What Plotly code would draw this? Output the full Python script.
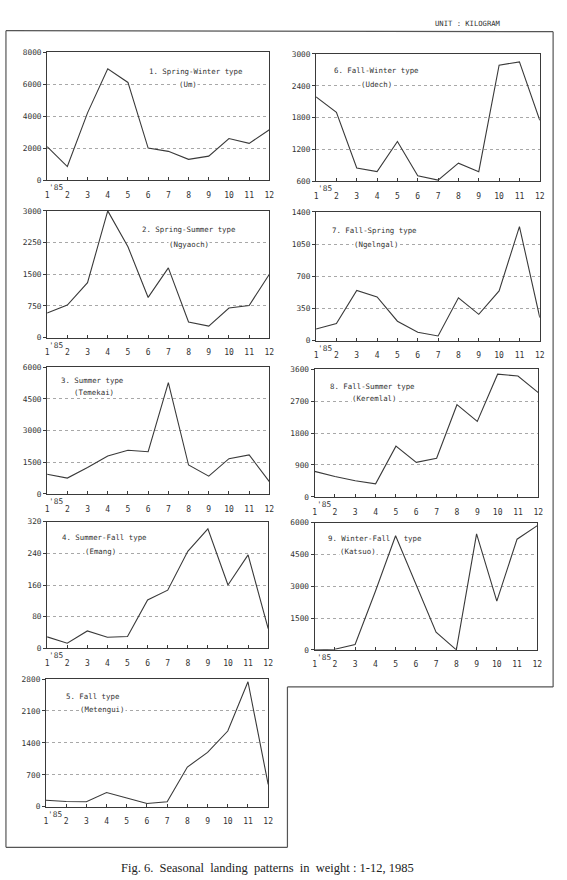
import plotly.graph_objects as go

W, H = 567, 880

months = list(range(1, 13))
month_labels = [str(m) for m in months]

um = [2100, 850, 4200, 6950, 6100, 2000, 1800, 1300, 1500, 2600, 2300, 3150]
ngyaoch = [580, 770, 1300, 3000, 2150, 950, 1650, 370, 270, 700, 760, 1500]
temekai = [930, 750, 1250, 1800, 2070, 2000, 5270, 1370, 840, 1670, 1850, 580]
emang = [29, 13, 44, 28, 30, 122, 147, 245, 302, 160, 236, 50]
metengui = [140, 115, 110, 310, 190, 70, 110, 870, 1190, 1660, 2740, 490]
udech = [2190, 1900, 850, 780, 1350, 700, 620, 940, 780, 2790, 2850, 1750]
ngelngal = [125, 185, 545, 475, 210, 90, 50, 465, 285, 540, 1240, 250]
keremlal = [720, 575, 455, 370, 1430, 975, 1090, 2600, 2130, 3460, 3410, 2940]
katsuo = [0, 30, 250, 2750, 5380, 3100, 830, 0, 5470, 2300, 5220, 5860]

titles = ["1. Spring-Winter type", "2. Spring-Summer type", "3. Summer type",
          "4. Summer-Fall type", "5. Fall type", "6. Fall-Winter type",
          "7. Fall-Spring type", "8. Fall-Summer type",
          "9. Winter-Fall\u00a0\u00a0\u00a0type"]
species = ["(Um)", "(Ngyaoch)", "(Temekai)", "(Emang)", "(Metengui)",
           "(Udech)", "(Ngelngal)", "(Keremlal)", "(Katsuo)"]
series = [um, ngyaoch, temekai, emang, metengui, udech, ngelngal, keremlal, katsuo]
y_ticks = [
    [0, 2000, 4000, 6000, 8000],
    [0, 750, 1500, 2250, 3000],
    [0, 1500, 3000, 4500, 6000],
    [0, 80, 160, 240, 320],
    [0, 700, 1400, 2100, 2800],
    [600, 1200, 1800, 2400, 3000],
    [0, 350, 700, 1050, 1400],
    [0, 900, 1800, 2700, 3600],
    [0, 1500, 3000, 4500, 6000],
]
year_label = "'85"
unit_label = "UNIT : KILOGRAM"
caption = "Fig. 6.\u00a0 Seasonal\u00a0 landing\u00a0 patterns\u00a0 in\u00a0 weight : 1-12, 1985"

# layout geometry (pixels): x-left, x-right, y-top, y-bottom
geom = [
    (45.7, 270.7, 48.5, 178),
    (45.7, 270.7, 209, 337),
    (45.7, 270.7, 367, 495),
    (45.7, 269.5, 523, 651),
    (44.5, 269.5, 682, 811),
    (318, 544.5, 50.5, 179),
    (318, 544.5, 210, 340),
    (316.5, 543, 369, 498),
    (316.5, 542, 524, 652.5),
]
title_pos = [
    (147, 67.7), (140, 228), (58, 380), (59, 539), (63, 700),
    (334, 66.7), (332, 229), (330, 386), (328, 540),
]
sub_pos = [
    (178, 81), (168, 242.7), (72, 393), (83, 553), (78, 713),
    (362, 81), (355, 243), (353, 399), (341, 553),
]

def fx(x):
    return x / W

def fy(y):
    return 1 - y / H

MONO = "DejaVu Sans Mono"
TXT = "#333333"
LINE = "#3a3a3a"

fig = go.Figure()
layout = dict(
    width=W, height=H, margin=dict(l=0, r=0, t=0, b=0),
    paper_bgcolor="white", plot_bgcolor="white", showlegend=False,
    font=dict(family=MONO, size=8, color=TXT),
)
annotations = []
shapes = []

for i in range(9):
    n = i + 1
    xl, xr, yt, yb = geom[i]
    xa = "x" if n == 1 else f"x{n}"
    ya = "y" if n == 1 else f"y{n}"
    fig.add_trace(go.Scatter(x=months, y=series[i], mode="lines",
                             line=dict(color=LINE, width=1.1),
                             xaxis=xa, yaxis=ya, hoverinfo="skip"))
    ticks = y_ticks[i]
    layout["xaxis" if n == 1 else f"xaxis{n}"] = dict(
        domain=[fx(xl), fx(xr)], anchor=ya, range=[1, 12],
        tickvals=months, ticktext=month_labels, ticks="inside", ticklen=3,
        tickcolor=LINE, showgrid=False, zeroline=False, showline=True,
        mirror=True, linecolor=LINE, linewidth=1, ticklabelstandoff=7,
        tickfont=dict(family=MONO, size=8, color=TXT), fixedrange=True,
    )
    layout["yaxis" if n == 1 else f"yaxis{n}"] = dict(
        domain=[fy(yb), fy(yt)], anchor=xa, range=[ticks[0], ticks[-1]],
        tickvals=ticks, ticktext=[str(t) for t in ticks], ticks="outside",
        ticklen=3, tickcolor=LINE, showgrid=True, gridcolor="#a8a8a8",
        griddash="dot", gridwidth=1, zeroline=False, showline=True,
        mirror=True, linecolor=LINE, linewidth=1, ticklabelstandoff=0,
        tickfont=dict(family=MONO, size=7.8, color=TXT), fixedrange=True,
    )
    tx, ty = title_pos[i]
    annotations.append(dict(text=titles[i], x=fx(tx), y=fy(ty), xref="paper",
                            yref="paper", xanchor="left", yanchor="middle",
                            showarrow=False, font=dict(family=MONO, size=7.4, color=TXT)))
    sx, sy = sub_pos[i]
    annotations.append(dict(text=species[i], x=fx(sx), y=fy(sy), xref="paper",
                            yref="paper", xanchor="left", yanchor="middle",
                            showarrow=False, bgcolor="white", borderpad=0,
                            font=dict(family=MONO, size=7.4, color=TXT)))
    annotations.append(dict(text=year_label, x=1, y=0, xref=xa,
                            yref=f"{ya} domain", xanchor="left", yanchor="top",
                            xshift=0, yshift=-1, showarrow=False,
                            font=dict(family=MONO, size=7.8, color=TXT)))

annotations.append(dict(text=unit_label, x=fx(436), y=fy(20), xref="paper",
                        yref="paper", xanchor="left", yanchor="middle",
                        showarrow=False, font=dict(family=MONO, size=7.2, color=TXT)))
annotations.append(dict(text=caption, x=fx(269), y=fy(873), xref="paper",
                        yref="paper", xanchor="center", yanchor="middle",
                        showarrow=False,
                        font=dict(family="Liberation Serif", size=12.5, color="#222222")))

frame = [
    (4, 27, 558, 28), (4, 27, 4, 852), (558, 28, 558, 690),
    (289, 690, 558, 690), (289, 690, 289, 852), (4, 852, 289, 852),
]
for x0, y0, x1, y1 in frame:
    shapes.append(dict(type="line", xref="paper", yref="paper",
                       x0=fx(x0), y0=fy(y0), x1=fx(x1), y1=fy(y1),
                       line=dict(color="#555555", width=1.2)))

layout["annotations"] = annotations
layout["shapes"] = shapes
fig.update_layout(**layout)
fig.write_html("out.html")
